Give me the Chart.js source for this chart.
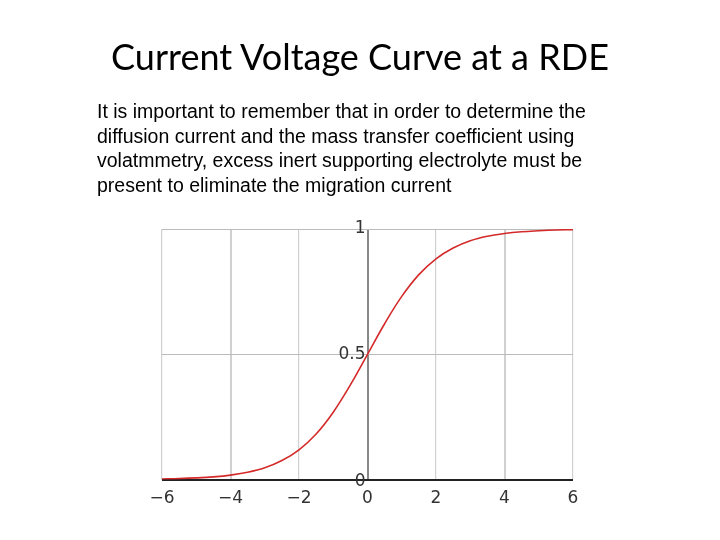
<!DOCTYPE html>
<html><head><meta charset="utf-8">
<script src="https://cdn.jsdelivr.net/npm/chart.js@4/dist/chart.umd.min.js"></script>
<style>
html,body{margin:0;padding:0;background:#fff;width:720px;height:540px;overflow:hidden;}
#title{position:absolute;left:0;width:720px;top:34px;text-align:center;font-family:Lato,"Open Sans",sans-serif;font-size:36px;color:#000;}
#para{position:absolute;left:97px;top:99px;width:515px;font-family:"Liberation Sans",Arial,sans-serif;font-size:19.5px;line-height:24.5px;color:#000;}
#c{position:absolute;left:0;top:0;}
</style></head><body>
<canvas id="c" width="720" height="540"></canvas>
<div id="title">Current Voltage Curve at a RDE</div>
<div id="para">It is important to remember that in order to determine the diffusion current and the mass transfer coefficient using volatmmetry, excess inert supporting electrolyte must be present to eliminate the migration current</div>
<script>
const xValues=[-6,-5.5,-5,-4.5,-4,-3.5,-3,-2.5,-2,-1.5,-1,-0.5,0,0.5,1,1.5,2,2.5,3,3.5,4,4.5,5,5.5,6];
const yValues=[0.0025,0.004,0.0067,0.011,0.018,0.029,0.047,0.076,0.119,0.182,0.269,0.378,0.5,0.622,0.731,0.818,0.881,0.924,0.953,0.971,0.982,0.989,0.993,0.996,0.9975];
const xTicks=[-6,-4,-2,0,2,4,6];
const yTicks=[0,0.5,1];
const yLabels={0:"0",0.5:"0.5",1:"1"};
const yLabelPlugin={id:'yl',afterDraw(ch){const c=ch.ctx,x=ch.scales.x,y=ch.scales.y;c.save();c.font='17px "DejaVu Sans"';c.fillStyle='#333';c.textAlign='right';c.textBaseline='middle';yTicks.forEach(v=>c.fillText(yLabels[v],x.getPixelForValue(0)-2,y.getPixelForValue(v)+(v===0?2:0)));c.restore();}};
new Chart(document.getElementById('c'),{type:'line',
data:{datasets:[{data:xValues.map((x,i)=>({x:x,y:yValues[i]})),borderColor:'#d42a2a',borderWidth:1.6,pointRadius:0,tension:0.4,fill:false}]},
options:{responsive:false,animation:false,events:[],
layout:{padding:{left:162,right:147,top:229,bottom:22}},
plugins:{legend:{display:false},tooltip:{enabled:false}},
scales:{
x:{type:'linear',min:-6,max:6,afterBuildTicks(s){s.ticks=xTicks.map(v=>({value:v}));},
border:{display:false},
grid:{color:c=>c.tick&&c.tick.value===0?'#888':'#d0d0d0',lineWidth:c=>c.tick&&c.tick.value===0?2:(Math.abs(c.tick.value)===4?2:1.2),drawTicks:false},
ticks:{color:'#333',font:{family:'DejaVu Sans',size:17},padding:9,callback:v=>v<0?'\u2212'+Math.abs(v):String(v)}},
y:{type:'linear',min:0,max:1,afterBuildTicks(s){s.ticks=yTicks.map(v=>({value:v}));},
border:{display:false},
grid:{color:c=>c.tick&&c.tick.value===0?'#222':'#bbb',lineWidth:c=>c.tick&&c.tick.value===0?2:1,drawTicks:false},
ticks:{display:false}}}},
plugins:[yLabelPlugin]});
</script></body></html>
